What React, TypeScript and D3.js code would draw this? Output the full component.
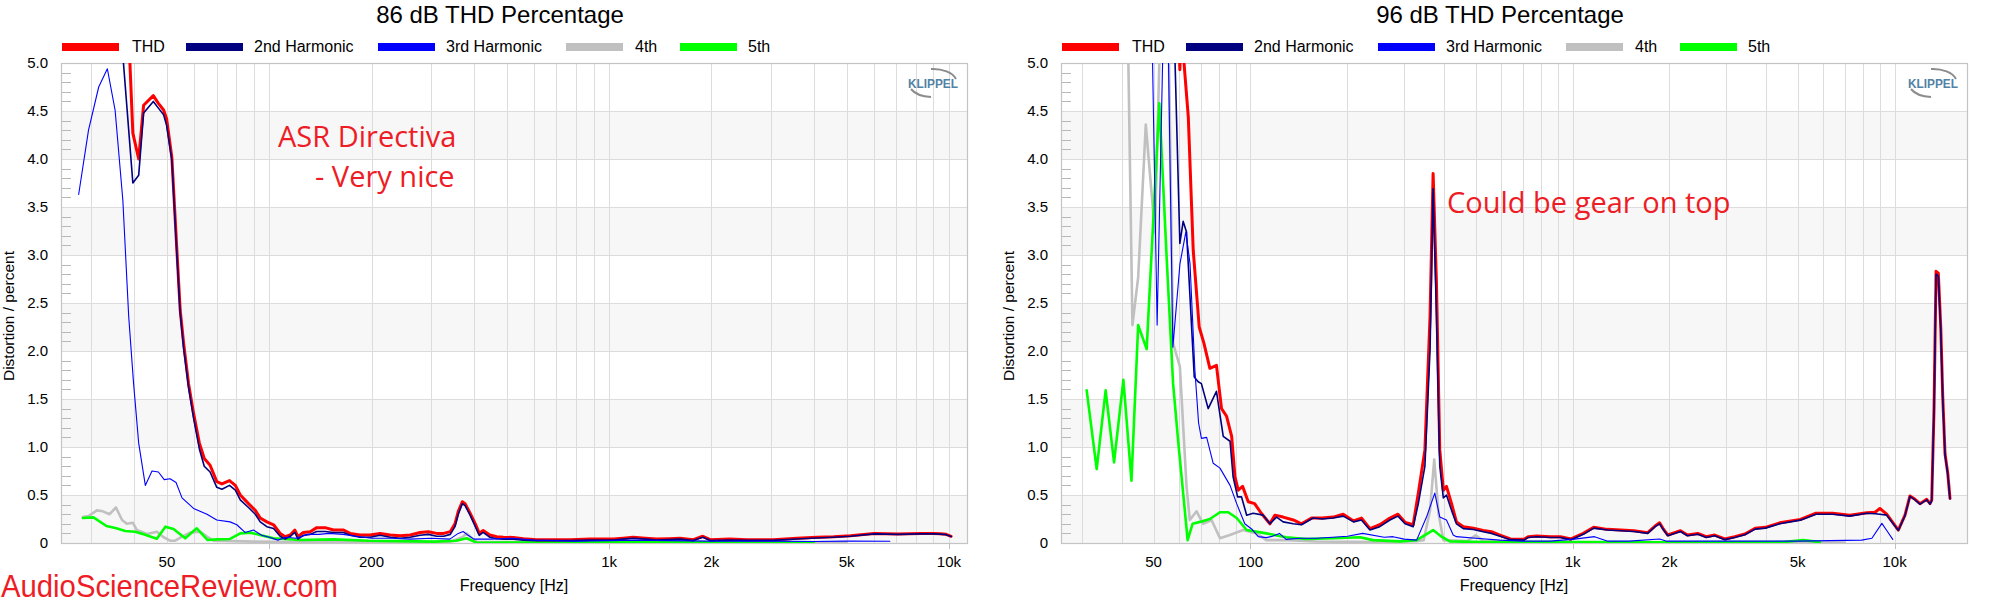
import { useEffect, useRef } from 'react';
import * as d3 from 'd3';

type Point = [number, number];

// ---- values: [frequency in Hz, distortion in %] ----

// 86 dB panel
const L_THD: Point[] = [
  [38.6, 5.3], [39.7, 4.27], [41.3, 4.0], [42.7, 4.56], [45.6, 4.66], [47.2, 4.58], [48.9, 4.51], [49.9, 4.42],
  [51.7, 4.02], [53.5, 3.05], [54.7, 2.43], [56.0, 2.08], [57.9, 1.66], [59.9, 1.35], [62.3, 1.04], [64.4, 0.88],
  [67.0, 0.81], [70.1, 0.64], [72.6, 0.615], [76.4, 0.65], [79.5, 0.6], [82.2, 0.5], [86.9, 0.41], [91.0, 0.34],
  [94.1, 0.26], [98.4, 0.22], [103, 0.19], [107.7, 0.1], [111.4, 0.066], [115.3, 0.083], [119, 0.135], [121.5, 0.066],
  [126, 0.11], [132, 0.118], [138, 0.16], [146, 0.16], [154.6, 0.135], [165.5, 0.135], [173, 0.1], [185, 0.083],
  [198, 0.083], [212, 0.1], [227, 0.083], [243, 0.076], [260, 0.083], [278, 0.11], [294, 0.118], [311, 0.1],
  [326, 0.1], [341, 0.118], [352, 0.2], [360, 0.33], [370, 0.43], [377, 0.41], [390, 0.31], [404, 0.2],
  [415, 0.1], [426, 0.13], [446, 0.083], [467, 0.066], [489, 0.06], [522, 0.057], [560, 0.045], [612, 0.035],
  [690, 0.035], [768, 0.035], [880, 0.042], [1029, 0.042], [1100, 0.05], [1177, 0.06], [1280, 0.05], [1379, 0.042],
  [1500, 0.045], [1616, 0.05], [1769, 0.035], [1887, 0.07], [1985, 0.035], [2270, 0.042], [2540, 0.035], [3040, 0.035],
  [3570, 0.05], [4090, 0.06], [4580, 0.066], [5130, 0.076], [6020, 0.1], [7060, 0.094], [8280, 0.1], [9000, 0.1],
  [9400, 0.096], [9810, 0.09], [10150, 0.07],
];
const L_H2: Point[] = [
  [36.5, 5.4], [39.7, 3.75], [41.3, 3.83], [42.7, 4.48], [45.6, 4.6], [47.2, 4.53], [48.9, 4.46], [49.9, 4.35],
  [51.7, 3.99], [53.5, 3.0], [54.7, 2.4], [56.0, 2.03], [57.9, 1.62], [59.9, 1.3], [62.3, 0.98], [64.4, 0.8],
  [67.0, 0.74], [70.1, 0.58], [72.6, 0.56], [76.4, 0.6], [79.5, 0.55], [82.2, 0.45], [86.9, 0.37], [91.0, 0.3],
  [94.1, 0.22], [98.4, 0.17], [103, 0.15], [107.7, 0.07], [111.4, 0.04], [115.3, 0.07], [119, 0.11], [121.5, 0.04],
  [126, 0.08], [132, 0.09], [138, 0.12], [146, 0.12], [154.6, 0.11], [165.5, 0.11], [173, 0.08], [185, 0.06],
  [198, 0.06], [212, 0.08], [227, 0.06], [243, 0.05], [260, 0.06], [278, 0.08], [294, 0.09], [311, 0.07],
  [326, 0.07], [341, 0.09], [352, 0.17], [360, 0.3], [370, 0.41], [377, 0.39], [390, 0.29], [404, 0.17],
  [415, 0.08], [426, 0.11], [446, 0.06], [467, 0.045], [489, 0.04], [522, 0.04], [560, 0.03], [612, 0.025],
  [690, 0.025], [768, 0.025], [880, 0.03], [1029, 0.032], [1100, 0.04], [1177, 0.05], [1280, 0.04], [1379, 0.032],
  [1500, 0.035], [1616, 0.04], [1769, 0.025], [1887, 0.06], [1985, 0.025], [2270, 0.032], [2540, 0.027], [3040, 0.027],
  [3570, 0.042], [4090, 0.052], [4580, 0.06], [5130, 0.07], [6020, 0.095], [7060, 0.09], [8280, 0.095], [9000, 0.095],
  [9400, 0.092], [9810, 0.087], [10150, 0.068],
];
const L_H3: Point[] = [
  [27.5, 3.63], [29.4, 4.3], [31.5, 4.75], [33.4, 4.94], [35.2, 4.51], [37.1, 3.57], [38.6, 2.36], [39.9, 1.66],
  [41.3, 1.04], [43.2, 0.6], [45.2, 0.75], [47.2, 0.74], [49.1, 0.66], [51.1, 0.67], [53.2, 0.63], [55.4, 0.47],
  [59.9, 0.36], [65.6, 0.3], [70.1, 0.24], [76.7, 0.22], [80.3, 0.19], [84.9, 0.11], [89.9, 0.135], [95, 0.08],
  [100, 0.06], [106, 0.03], [112, 0.06], [120, 0.05], [130, 0.09], [140, 0.09], [150, 0.1], [165, 0.09],
  [180, 0.07], [200, 0.05], [230, 0.05], [260, 0.04], [300, 0.05], [340, 0.04], [360, 0.1], [372, 0.12],
  [385, 0.08], [400, 0.04], [450, 0.04], [520, 0.05], [600, 0.03], [800, 0.02], [1000, 0.025], [1200, 0.03],
  [1500, 0.025], [2000, 0.02], [3000, 0.02], [4000, 0.015], [5000, 0.02], [6700, 0.018],
];
const L_H4: Point[] = [
  [28.3, 0.27], [29.4, 0.28], [31.1, 0.34], [32.4, 0.33], [33.9, 0.3], [35.4, 0.37], [36.9, 0.24], [38.1, 0.2],
  [39.7, 0.21], [40.8, 0.135], [43.7, 0.094], [46.7, 0.118], [48.9, 0.06], [51.1, 0.024], [52.9, 0.024], [55.4, 0.066],
  [58.5, 0.108], [62.6, 0.118], [65.6, 0.066], [68.6, 0.024], [78.5, 0.02], [90, 0.014], [120, 0.01], [200, 0.008],
  [340, 0.01], [370, 0.06], [381, 0.1], [395, 0.05], [410, 0.01], [600, 0.008], [1000, 0.006], [2000, 0.006],
  [3500, 0.006], [5000, 0.005],
];
const L_H5: Point[] = [
  [28.3, 0.26], [30.4, 0.267], [33.2, 0.177], [35.5, 0.153], [37.7, 0.125], [40.3, 0.118], [42.7, 0.09], [46.7, 0.045],
  [49.5, 0.17], [52.3, 0.146], [56.6, 0.049], [61.2, 0.153], [65.9, 0.031], [70.1, 0.038], [76.7, 0.042], [82.2, 0.1],
  [88, 0.108], [94, 0.083], [103, 0.049], [123, 0.031], [155, 0.038], [196, 0.024], [243, 0.02], [305, 0.014],
  [355, 0.024], [381, 0.049], [408, 0.003], [500, 0.005], [1000, 0.008], [2000, 0.006], [4000, 0.005],
];

// 96 dB panel
const R_THD: Point[] = [
  [59.6, 5.6], [60.35, 4.93], [61.2, 5.6], [62.0, 5.05], [64.1, 4.44], [66.4, 3.05], [69.3, 2.25], [71.7, 2.08],
  [74.8, 1.82], [78.4, 1.85], [81.3, 1.4], [84.3, 1.32], [87.4, 1.11], [89.5, 0.69], [91.6, 0.55], [94.5, 0.59],
  [98.4, 0.43], [103, 0.41], [108, 0.31], [114.9, 0.2], [119, 0.29], [126.3, 0.27], [135.8, 0.24], [144, 0.2],
  [154.7, 0.26], [167, 0.26], [180.7, 0.27], [194, 0.3], [209, 0.23], [221, 0.26], [235, 0.15], [252, 0.19],
  [271, 0.26], [287, 0.3], [302, 0.215], [320, 0.19], [332, 0.52], [348, 0.97], [361, 2.36], [369, 3.85],
  [378, 2.7], [387, 0.97], [397, 0.55], [406, 0.59], [421, 0.41], [436, 0.22], [458, 0.17], [492, 0.153],
  [528, 0.13], [560, 0.118], [595, 0.083], [641, 0.042], [707, 0.038], [728, 0.066], [774, 0.073], [854, 0.066],
  [917, 0.066], [989, 0.042], [1080, 0.1], [1163, 0.163], [1282, 0.142], [1413, 0.135], [1552, 0.128], [1711, 0.108],
  [1804, 0.177], [1863, 0.21], [1908, 0.153], [1976, 0.083], [2163, 0.128], [2274, 0.083], [2448, 0.1], [2600, 0.066],
  [2762, 0.083], [2970, 0.042], [3190, 0.066], [3430, 0.094], [3690, 0.153], [3970, 0.163], [4400, 0.21], [5100, 0.246],
  [5700, 0.31], [6420, 0.31], [7260, 0.29], [8200, 0.316], [8700, 0.32], [9000, 0.36], [9450, 0.3], [10270, 0.135],
  [10770, 0.29], [11160, 0.49], [11570, 0.455], [11990, 0.41], [12580, 0.455], [12880, 0.41], [13040, 0.45], [13260, 1.42],
  [13450, 2.83], [13670, 2.81], [13910, 2.25], [14110, 1.52], [14340, 0.93], [14620, 0.73], [14860, 0.465],
];
const R_H2: Point[] = [
  [57.9, 5.4], [60.35, 3.12], [61.8, 3.35], [63.3, 3.24], [66.9, 1.73], [68.8, 1.68], [70.4, 1.66], [73.9, 1.4],
  [78.4, 1.58], [82.3, 1.11], [86.4, 1.06], [88.3, 0.69], [91.2, 0.48], [93.8, 0.48], [97.3, 0.29], [101.9, 0.31],
  [109.5, 0.29], [114.9, 0.2], [120.5, 0.27], [126.3, 0.22], [135.8, 0.2], [144, 0.19], [156.5, 0.26], [167, 0.25],
  [180.7, 0.26], [194, 0.28], [209, 0.22], [221, 0.24], [235, 0.135], [252, 0.17], [271, 0.24], [287, 0.28],
  [302, 0.2], [320, 0.17], [332, 0.41], [348, 0.8], [361, 2.01], [369, 3.69], [378, 2.36], [387, 0.8],
  [397, 0.47], [406, 0.5], [421, 0.34], [436, 0.2], [458, 0.15], [492, 0.14], [528, 0.118], [560, 0.1],
  [595, 0.07], [641, 0.035], [707, 0.03], [728, 0.058], [774, 0.065], [854, 0.058], [917, 0.058], [989, 0.035],
  [1080, 0.09], [1163, 0.155], [1282, 0.135], [1413, 0.128], [1552, 0.12], [1711, 0.1], [1804, 0.17], [1863, 0.2],
  [1908, 0.145], [1976, 0.075], [2163, 0.12], [2274, 0.075], [2448, 0.092], [2600, 0.058], [2762, 0.075], [2970, 0.035],
  [3190, 0.058], [3430, 0.086], [3690, 0.145], [3970, 0.155], [4400, 0.2], [5100, 0.238], [5700, 0.3], [6420, 0.3],
  [7260, 0.28], [8200, 0.31], [8700, 0.305], [9000, 0.3], [9450, 0.29], [10270, 0.13], [10770, 0.285], [11160, 0.485],
  [11570, 0.45], [11990, 0.405], [12580, 0.45], [12880, 0.405], [13040, 0.44], [13260, 1.4], [13450, 2.8], [13670, 2.78],
  [13910, 2.22], [14110, 1.5], [14340, 0.92], [14620, 0.72], [14860, 0.46],
];
const R_H3: Point[] = [
  [49.3, 5.6], [51.3, 2.27], [53.8, 5.6], [55.3, 5.6], [57.4, 2.04], [60.4, 2.91], [63.0, 3.24], [64.9, 2.91],
  [67.2, 1.8], [69.0, 1.25], [70.4, 1.09], [73.1, 1.1], [76.6, 0.83], [80.4, 0.78], [86.4, 0.6], [90.6, 0.41],
  [96.0, 0.2], [100.8, 0.146], [105.7, 0.066], [112, 0.056], [117, 0.07], [123, 0.1], [129, 0.038], [143, 0.049],
  [160, 0.05], [180, 0.06], [200, 0.07], [223, 0.1], [260, 0.06], [277, 0.066], [300, 0.04], [328, 0.03],
  [352, 0.27], [373.5, 0.52], [387, 0.27], [406, 0.24], [426, 0.083], [436, 0.066], [500, 0.05], [595, 0.03],
  [700, 0.02], [850, 0.02], [1000, 0.038], [1170, 0.066], [1280, 0.02], [1500, 0.02], [1863, 0.042], [1950, 0.02],
  [3000, 0.02], [5000, 0.02], [7900, 0.03], [8500, 0.05], [9130, 0.205], [9500, 0.12], [9870, 0.038],
];
const R_H4: Point[] = [
  [41.5, 5.6], [43.0, 2.27], [44.8, 2.77], [47.3, 4.36], [50.5, 3.23], [52.3, 5.2], [55.5, 5.6], [57.5, 2.08],
  [60.35, 1.84], [63.3, 0.59], [64.8, 0.24], [68.0, 0.33], [71.3, 0.2], [75.7, 0.24], [80.4, 0.05], [86.3, 0.083],
  [94.9, 0.135], [104.5, 0.1], [112, 0.03], [130, 0.03], [160, 0.015], [250, 0.01], [330, 0.02], [345, 0.03],
  [361, 0.34], [372, 0.87], [383.5, 0.31], [397, 0.03], [470, 0.02], [500, 0.08], [530, 0.02], [700, 0.008],
  [2000, 0.006], [5000, 0.005], [7000, 0.005],
];
const R_H5: Point[] = [
  [31.0, 1.59], [33.3, 0.77], [35.5, 1.59], [37.7, 0.84], [40.3, 1.7], [42.7, 0.65], [44.8, 2.27], [47.6, 2.02],
  [52.1, 4.58], [54.9, 2.98], [57.5, 1.66], [59.6, 1.07], [63.8, 0.03], [66.1, 0.2], [69.7, 0.22], [74.8, 0.25],
  [80.4, 0.32], [85.3, 0.32], [90.6, 0.26], [97.3, 0.135], [112, 0.1], [129, 0.06], [149, 0.042], [181, 0.049],
  [219, 0.06], [240, 0.03], [291, 0.017], [328, 0.03], [348, 0.083], [369, 0.135], [392, 0.066], [416, 0.017],
  [528, 0.01], [1000, 0.01], [2000, 0.008], [4500, 0.01], [5200, 0.03], [5860, 0.01],
];

const TITLES = ['86 dB THD Percentage', '96 dB THD Percentage'];
const LEGEND_NAMES = ['THD', '2nd Harmonic', '3rd Harmonic', '4th', '5th'];
const SERIES_COLORS = ['#ff0000', '#000080', '#0000ff', '#c0c0c0', '#00ff00'];
const SERIES_WIDTHS = [3, 1.6, 1.1, 2.6, 2.6];
const FREQ_RANGES: [number, number][] = [[24.4, 11300], [25.8, 16780]];
const X_TICKS = [50, 100, 200, 500, 1000, 2000, 5000, 10000];
const X_TICK_LABELS = ['50', '100', '200', '500', '1k', '2k', '5k', '10k'];
const Y_TICKS = [0, 0.5, 1, 1.5, 2, 2.5, 3, 3.5, 4, 4.5, 5];
const Y_TICK_LABELS = ['0', '0.5', '1.0', '1.5', '2.0', '2.5', '3.0', '3.5', '4.0', '4.5', '5.0'];
const GRID_FREQS = [30, 40, 50, 60, 70, 80, 90, 100, 200, 300, 400, 500, 600, 700, 800, 900,
  1000, 2000, 3000, 4000, 5000, 6000, 7000, 8000, 9000, 10000];
const DECADES = [100, 1000, 10000];
const BAND_STARTS = [0, 1, 2, 3, 4];

const PLOT = { left: 61, right: 967, top: 63, bottom: 543 };
const FONT = "'Liberation Sans', Arial, sans-serif";
const NOTE_FONT = "'Open Sans', 'Segoe UI', sans-serif";
const NOTE_RED = '#ee1c25';

type Panel = {
  offsetX: number;
  title: string;
  range: [number, number];
  series: Point[][]; // THD, 2nd, 3rd, 4th, 5th
  notes: { text: string; x: number; y: number }[];
};

const PANELS: Panel[] = [
  {
    offsetX: 0,
    title: TITLES[0],
    range: FREQ_RANGES[0],
    series: [L_THD, L_H2, L_H3, L_H4, L_H5],
    notes: [
      { text: 'ASR Directiva', x: 278, y: 147 },
      { text: '- Very nice', x: 315, y: 187 },
    ],
  },
  {
    offsetX: 1000,
    title: TITLES[1],
    range: FREQ_RANGES[1],
    series: [R_THD, R_H2, R_H3, R_H4, R_H5],
    notes: [{ text: 'Could be gear on top', x: 447, y: 213 }],
  },
];

// legend layout (swatch x, label x) in panel coordinates
const LEGEND_SWATCH_X = [62, 186, 378, 566, 680];
const LEGEND_LABEL_X = [132, 254, 446, 635, 748];
// drawing order: 4th, 5th, THD, 2nd, 3rd
const DRAW_ORDER = [3, 4, 0, 1, 2];

const App = () => {
  const svgRef = useRef<SVGSVGElement>(null);

  useEffect(() => {
    if (!svgRef.current) return;
    const svg = d3.select(svgRef.current);
    svg.selectAll('*').remove();

    svg.append('rect').attr('width', 2000).attr('height', 600).attr('fill', '#fff');

    const y = d3.scaleLinear().domain([0, 5]).range([PLOT.bottom, PLOT.top]);

    PANELS.forEach((panel, idx) => {
      const g = svg.append('g').attr('transform', `translate(${panel.offsetX},0)`);
      const x = d3.scaleLog().domain(panel.range).range([PLOT.left, PLOT.right]);
      const plotW = PLOT.right - PLOT.left;

      // Alternating bands
      g.selectAll('rect.band')
        .data(BAND_STARTS)
        .join('rect')
        .attr('class', 'band')
        .attr('x', PLOT.left)
        .attr('y', (d) => y(d + 0.5))
        .attr('width', plotW)
        .attr('height', (d) => y(d) - y(d + 0.5))
        .attr('fill', '#f7f7f7');

      // Vertical grid
      const freqs = GRID_FREQS.filter((f) => f > panel.range[0] && f < panel.range[1]);
      g.selectAll('line.vgrid')
        .data(freqs)
        .join('line')
        .attr('class', 'vgrid')
        .attr('x1', (d) => Math.round(x(d)) + 0.5)
        .attr('x2', (d) => Math.round(x(d)) + 0.5)
        .attr('y1', PLOT.top)
        .attr('y2', PLOT.bottom)
        .attr('stroke', '#dcdcdc')
        .attr('stroke-width', 1);

      // Horizontal grid
      g.selectAll('line.hgrid')
        .data(Y_TICKS.filter((v) => v > 0 && v < 5))
        .join('line')
        .attr('class', 'hgrid')
        .attr('x1', PLOT.left)
        .attr('x2', PLOT.right)
        .attr('y1', (d) => Math.round(y(d)) + 0.5)
        .attr('y2', (d) => Math.round(y(d)) + 0.5)
        .attr('stroke', '#dcdcdc')
        .attr('stroke-width', 1);

      // Minor y ticks inside the plot
      const minor = d3.range(1, 50).filter((i) => i % 5 !== 0).map((i) => i / 10);
      g.selectAll('line.minor')
        .data(minor)
        .join('line')
        .attr('class', 'minor')
        .attr('x1', PLOT.left)
        .attr('x2', PLOT.left + 10)
        .attr('y1', (d) => Math.round(y(d)) + 0.5)
        .attr('y2', (d) => Math.round(y(d)) + 0.5)
        .attr('stroke', '#b8b8b8')
        .attr('stroke-width', 1);

      // Decade ticks below the axis
      g.selectAll('line.decade')
        .data(DECADES.filter((f) => f > panel.range[0] && f < panel.range[1]))
        .join('line')
        .attr('class', 'decade')
        .attr('x1', (d) => Math.round(x(d)) + 0.5)
        .attr('x2', (d) => Math.round(x(d)) + 0.5)
        .attr('y1', PLOT.bottom)
        .attr('y2', PLOT.bottom + 6)
        .attr('stroke', '#c0c0c0');

      // Frame
      g.append('rect')
        .attr('x', PLOT.left + 0.5)
        .attr('y', PLOT.top + 0.5)
        .attr('width', plotW)
        .attr('height', PLOT.bottom - PLOT.top)
        .attr('fill', 'none')
        .attr('stroke', '#c4c4c4')
        .attr('stroke-width', 1.2);

      // Klippel logo
      const logo = g.append('g').attr('transform', 'translate(933,83)');
      logo
        .append('path')
        .attr('d', 'M -2 -14 A 24 14 0 0 1 23 -4')
        .attr('fill', 'none')
        .attr('stroke', '#8c8c8c')
        .attr('stroke-width', 2);
      logo
        .append('path')
        .attr('d', 'M -22 6 A 24 14 0 0 0 -2 14')
        .attr('fill', 'none')
        .attr('stroke', '#8c8c8c')
        .attr('stroke-width', 2);
      logo
        .append('text')
        .attr('x', 0)
        .attr('y', 5)
        .attr('text-anchor', 'middle')
        .attr('font-family', FONT)
        .attr('font-size', '13px')
        .attr('font-weight', 'bold')
        .attr('textLength', 50)
        .attr('lengthAdjust', 'spacingAndGlyphs')
        .attr('fill', '#5282a4')
        .text('KLIPPEL');

      // Curves
      const clipId = `plot-clip-${idx}`;
      g.append('defs')
        .append('clipPath')
        .attr('id', clipId)
        .append('rect')
        .attr('x', PLOT.left)
        .attr('y', PLOT.top)
        .attr('width', plotW)
        .attr('height', PLOT.bottom - PLOT.top);

      const line = d3
        .line<Point>()
        .x((d) => x(d[0]))
        .y((d) => y(d[1]));

      const curves = g.append('g').attr('clip-path', `url(#${clipId})`);
      DRAW_ORDER.forEach((s) => {
        curves
          .append('path')
          .attr('d', line(panel.series[s]) ?? '')
          .attr('fill', 'none')
          .attr('stroke', SERIES_COLORS[s])
          .attr('stroke-width', SERIES_WIDTHS[s])
          .attr('stroke-linejoin', 'round')
          .attr('stroke-linecap', 'round');
      });

      // Title
      g.append('text')
        .attr('x', 500)
        .attr('y', 23)
        .attr('text-anchor', 'middle')
        .attr('font-family', FONT)
        .attr('font-size', '24px')
        .attr('fill', '#000')
        .text(panel.title);

      // Legend
      LEGEND_NAMES.forEach((name, i) => {
        g.append('rect')
          .attr('x', LEGEND_SWATCH_X[i])
          .attr('y', 43)
          .attr('width', 57)
          .attr('height', 8)
          .attr('fill', SERIES_COLORS[i]);
        g.append('text')
          .attr('x', LEGEND_LABEL_X[i])
          .attr('y', 52)
          .attr('font-family', FONT)
          .attr('font-size', '16px')
          .attr('fill', '#000')
          .text(name);
      });

      // Y tick labels
      g.selectAll('text.ytick')
        .data(Y_TICKS)
        .join('text')
        .attr('class', 'ytick')
        .attr('x', 48)
        .attr('y', (d) => y(d) + 5)
        .attr('text-anchor', 'end')
        .attr('font-family', FONT)
        .attr('font-size', '15px')
        .attr('fill', '#000')
        .text((_, i) => Y_TICK_LABELS[i]);

      // X tick labels
      g.selectAll('text.xtick')
        .data(X_TICKS)
        .join('text')
        .attr('class', 'xtick')
        .attr('x', (d) => x(d))
        .attr('y', 567)
        .attr('text-anchor', 'middle')
        .attr('font-family', FONT)
        .attr('font-size', '15px')
        .attr('fill', '#000')
        .text((_, i) => X_TICK_LABELS[i]);

      // Axis titles
      g.append('text')
        .attr('x', 514)
        .attr('y', 591)
        .attr('text-anchor', 'middle')
        .attr('font-family', FONT)
        .attr('font-size', '16px')
        .attr('fill', '#000')
        .text('Frequency [Hz]');

      g.append('text')
        .attr('transform', 'translate(13.5,316) rotate(-90)')
        .attr('text-anchor', 'middle')
        .attr('font-family', FONT)
        .attr('font-size', '15.5px')
        .attr('fill', '#000')
        .text('Distortion / percent');

      // Notes
      panel.notes.forEach((n) => {
        g.append('text')
          .attr('x', n.x)
          .attr('y', n.y)
          .attr('font-family', NOTE_FONT)
          .attr('font-size', '29px')
          .attr('fill', NOTE_RED)
          .text(n.text);
      });
    });

    // Watermark (sits on the bottom edge, as in the reference)
    svg
      .append('text')
      .attr('x', 1)
      .attr('y', 597)
      .attr('font-family', "'Liberation Sans Narrow', 'Arial Narrow', sans-serif")
      .attr('font-size', '32px')
      .attr('textLength', 337)
      .attr('lengthAdjust', 'spacingAndGlyphs')
      .attr('fill', NOTE_RED)
      .text('AudioScienceReview.com');
  }, []);

  return (
    <svg
      ref={svgRef}
      width={2000}
      height={600}
      style={{ position: 'absolute', left: 0, top: 0, display: 'block' }}
    />
  );
};

export default App;
